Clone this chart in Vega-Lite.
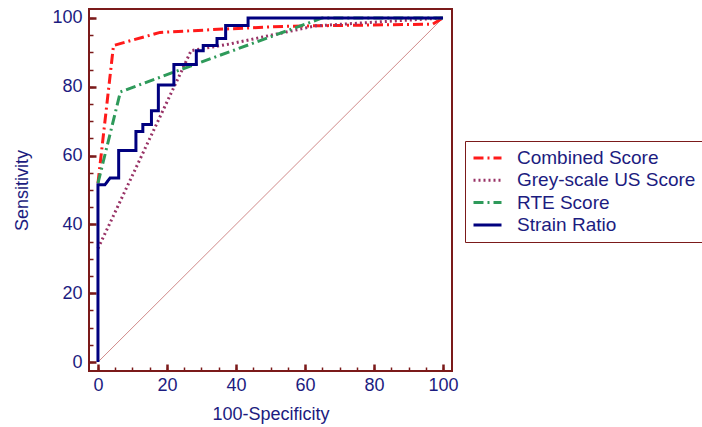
{
  "$schema": "https://vega.github.io/schema/vega-lite/v6.json",
  "autosize": "none",
  "padding": {"left": 89, "top": 9, "right": 250, "bottom": 56},
  "width": 363,
  "height": 362,
  "background": "white",
  "config": {
    "view": {"stroke": "#7b1a1a", "strokeWidth": 2},
    "font": "Liberation Sans",
    "legend": {
      "orient": "none",
      "legendX": 376,
      "legendY": 132,
      "padding": 7,
      "strokeColor": "#7b1a1a",
      "fillColor": "white",
      "labelFont": "Liberation Sans",
      "labelFontSize": 19,
      "labelColor": "#1c1c80",
      "labelOffset": 14,
      "labelLimit": 400,
      "rowPadding": 2.3,
      "clipHeight": 20,
      "symbolType": "stroke",
      "symbolSize": 784,
      "symbolStrokeWidth": 3,
      "title": null
    }
  },
  "resolve": {"axis": {"x": "independent", "y": "independent"}},
  "layer": [
    {
      "data": {"values": [{"x": 0, "y": 0}, {"x": 100, "y": 100}]},
      "mark": {"type": "line", "color": "#d08a8a", "strokeWidth": 1},
      "encoding": {
        "x": {
          "field": "x", "type": "quantitative",
          "scale": {"domain": [-2.6, 102.6], "nice": false, "zero": false},
          "axis": {
            "orient": "bottom",
            "tickCount": 21,
            "labels": false, "title": null, "ticks": false, "domain": false,
            "grid": true, "gridColor": "#7b1a1a", "gridOpacity": 1, "gridWidth": 1.5,
            "gridDash": [4, 1000], "gridDashOffset": 646
          }
        },
        "y": {
          "field": "y", "type": "quantitative",
          "scale": {"domain": [-2.6, 102.6], "nice": false, "zero": false},
          "axis": {
            "orient": "left",
            "tickCount": 21,
            "labels": false, "title": null, "ticks": false, "domain": false,
            "grid": true, "gridColor": "#7b1a1a", "gridOpacity": 1, "gridWidth": 1.5,
            "gridDash": [4, 1000], "gridDashOffset": 0
          }
        }
      }
    },
    {
      "data": {"values": [
        {"series": "Combined Score", "o": 1, "x": 0, "y": 52},
        {"series": "Combined Score", "o": 2, "x": 4.5, "y": 92},
        {"series": "Combined Score", "o": 3, "x": 18, "y": 95.8},
        {"series": "Combined Score", "o": 4, "x": 37, "y": 96.8},
        {"series": "Combined Score", "o": 5, "x": 55, "y": 97.6},
        {"series": "Combined Score", "o": 6, "x": 97, "y": 98.2},
        {"series": "Combined Score", "o": 7, "x": 100, "y": 100},
        {"series": "Grey-scale US Score", "o": 1, "x": 0, "y": 33},
        {"series": "Grey-scale US Score", "o": 2, "x": 27, "y": 90.5},
        {"series": "Grey-scale US Score", "o": 3, "x": 38, "y": 92.4},
        {"series": "Grey-scale US Score", "o": 4, "x": 63, "y": 97.7},
        {"series": "Grey-scale US Score", "o": 5, "x": 100, "y": 100},
        {"series": "RTE Score", "o": 1, "x": 0, "y": 52},
        {"series": "RTE Score", "o": 2, "x": 6.5, "y": 78.5},
        {"series": "RTE Score", "o": 3, "x": 24, "y": 85},
        {"series": "RTE Score", "o": 4, "x": 65, "y": 100},
        {"series": "RTE Score", "o": 5, "x": 100, "y": 100},
        {"series": "Strain Ratio", "o": 1, "x": 0, "y": 0},
        {"series": "Strain Ratio", "o": 2, "x": 0, "y": 51.5},
        {"series": "Strain Ratio", "o": 3, "x": 2, "y": 51.5},
        {"series": "Strain Ratio", "o": 4, "x": 3.5, "y": 53.5},
        {"series": "Strain Ratio", "o": 5, "x": 6, "y": 53.5},
        {"series": "Strain Ratio", "o": 6, "x": 6, "y": 61.5},
        {"series": "Strain Ratio", "o": 7, "x": 11, "y": 61.5},
        {"series": "Strain Ratio", "o": 8, "x": 11, "y": 67},
        {"series": "Strain Ratio", "o": 9, "x": 13, "y": 67},
        {"series": "Strain Ratio", "o": 10, "x": 13, "y": 69},
        {"series": "Strain Ratio", "o": 11, "x": 15.5, "y": 69},
        {"series": "Strain Ratio", "o": 12, "x": 15.5, "y": 73},
        {"series": "Strain Ratio", "o": 13, "x": 17.5, "y": 73},
        {"series": "Strain Ratio", "o": 14, "x": 17.5, "y": 80.5},
        {"series": "Strain Ratio", "o": 15, "x": 22, "y": 80.5},
        {"series": "Strain Ratio", "o": 16, "x": 22, "y": 86.5},
        {"series": "Strain Ratio", "o": 17, "x": 28.5, "y": 86.5},
        {"series": "Strain Ratio", "o": 18, "x": 28.5, "y": 90.5},
        {"series": "Strain Ratio", "o": 19, "x": 30.5, "y": 90.5},
        {"series": "Strain Ratio", "o": 20, "x": 30.5, "y": 92},
        {"series": "Strain Ratio", "o": 21, "x": 34.5, "y": 92},
        {"series": "Strain Ratio", "o": 22, "x": 34.5, "y": 94},
        {"series": "Strain Ratio", "o": 23, "x": 37, "y": 94},
        {"series": "Strain Ratio", "o": 24, "x": 37, "y": 97.8},
        {"series": "Strain Ratio", "o": 25, "x": 43.5, "y": 97.8},
        {"series": "Strain Ratio", "o": 26, "x": 43.5, "y": 100},
        {"series": "Strain Ratio", "o": 27, "x": 100, "y": 100}
      ]},
      "mark": {"type": "line", "strokeWidth": 3},
      "encoding": {
        "x": {
          "field": "x", "type": "quantitative",
          "scale": {"domain": [-2.6, 102.6], "nice": false, "zero": false},
          "axis": {
            "orient": "bottom",
            "tickCount": 5,
            "ticks": false, "domain": false,
            "grid": true, "gridColor": "#7b1a1a", "gridOpacity": 1, "gridWidth": 2.5,
            "gridDash": [7, 1000], "gridDashOffset": 652,
            "labelPadding": 14,
            "labelBaseline": "middle",
            "labelFont": "Liberation Sans", "labelFontSize": 18, "labelColor": "#1c1c80",
            "title": "100-Specificity",
            "titleFont": "Liberation Sans", "titleFontSize": 18, "titleFontWeight": "normal", "titleColor": "#1c1c80",
            "titleX": 181.5, "titleY": 43, "titleBaseline": "middle", "titleAlign": "center"
          }
        },
        "y": {
          "field": "y", "type": "quantitative",
          "scale": {"domain": [-2.6, 102.6], "nice": false, "zero": false},
          "axis": {
            "orient": "left",
            "tickCount": 5,
            "ticks": false, "domain": false,
            "grid": true, "gridColor": "#7b1a1a", "gridOpacity": 1, "gridWidth": 2.5,
            "gridDash": [7, 1000], "gridDashOffset": 0,
            "labelPadding": 7,
            "labelFont": "Liberation Sans", "labelFontSize": 18, "labelColor": "#1c1c80",
            "title": "Sensitivity",
            "titleFont": "Liberation Sans", "titleFontSize": 18, "titleFontWeight": "normal", "titleColor": "#1c1c80",
            "titleX": -67, "titleY": 181, "titleAngle": -90, "titleBaseline": "middle", "titleAlign": "center"
          }
        },
        "order": {"field": "o", "type": "quantitative"},
        "color": {
          "field": "series", "type": "nominal",
          "scale": {
            "domain": ["Combined Score", "Grey-scale US Score", "RTE Score", "Strain Ratio"],
            "range": ["#ff1a1a", "#993366", "#2e9a5a", "#00007f"]
          }
        },
        "strokeDash": {
          "field": "series", "type": "nominal",
          "scale": {
            "domain": ["Combined Score", "Grey-scale US Score", "RTE Score", "Strain Ratio"],
            "range": [[10, 4, 2, 4], [2, 3], [10, 4, 2, 4], [1, 0]]
          }
        }
      }
    }
  ]
}
